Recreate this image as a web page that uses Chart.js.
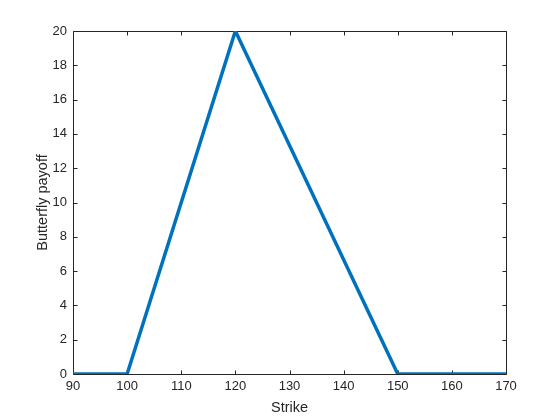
<!DOCTYPE html>
<html>
<head>
<meta charset="utf-8">
<script src="https://cdn.jsdelivr.net/npm/chart.js@4/dist/chart.umd.min.js"></script>
<style>
html,body{margin:0;padding:0;background:#fff;}
#wrap{width:560px;height:420px;}
</style>
</head>
<body>
<div id="wrap"><canvas id="c" width="560" height="420"></canvas></div>
<script>
const strikes = [90, 100, 120, 150, 170];
const payoff = [0, 0, 20, 0, 0];
const xTicks = [90, 100, 110, 120, 130, 140, 150, 160, 170];
const yTicks = [0, 2, 4, 6, 8, 10, 12, 14, 16, 18, 20];

const AX = '#262626';
const framePlugin = {
  id: 'frame',
  beforeDatasetsDraw(chart) {
    const {ctx, chartArea: a, scales: {x, y}} = chart;
    ctx.save();
    ctx.strokeStyle = AX;
    ctx.lineWidth = 1;
    const L = Math.round(a.left) + 0.5, R = Math.round(a.right) + 0.5;
    const T = Math.round(a.top) + 0.5, B = Math.round(a.bottom) + 0.5;
    ctx.beginPath();
    ctx.rect(L, T, R - L, B - T);
    const tl = 4;
    xTicks.forEach(v => {
      const px = Math.round(x.getPixelForValue(v)) + 0.5;
      ctx.moveTo(px, B); ctx.lineTo(px, B - tl);
      ctx.moveTo(px, T); ctx.lineTo(px, T + tl);
    });
    yTicks.forEach(v => {
      const py = Math.round(y.getPixelForValue(v)) + 0.5;
      ctx.moveTo(L, py); ctx.lineTo(L + tl, py);
      ctx.moveTo(R, py); ctx.lineTo(R - tl, py);
    });
    ctx.stroke();
    ctx.restore();
  }
};

new Chart(document.getElementById('c'), {
  type: 'line',
  data: {
    datasets: [{
      data: strikes.map((s, i) => ({x: s, y: payoff[i]})),
      borderColor: '#0072BD',
      borderWidth: 3.5,
      pointRadius: 0,
      tension: 0,
      fill: false
    }]
  },
  options: {
    responsive: false,
    animation: false,
    layout: {padding: {top: 31, right: 54, left: 0, bottom: 0}},
    plugins: {legend: {display: false}, tooltip: {enabled: false}},
    scales: {
      x: {
        type: 'linear', min: 90, max: 170,
        afterBuildTicks: s => { s.ticks = xTicks.map(v => ({value: v})); },
        afterFit: s => { s.height = 46; },
        grid: {display: false, drawTicks: false},
        border: {display: false},
        ticks: {color: AX, font: {family: 'Liberation Sans', size: 13}, padding: 5, maxRotation: 0, autoSkip: false},
        title: {display: true, text: 'Strike', color: AX, font: {family: 'Liberation Sans', size: 14.5}, padding: {top: 0, bottom: 3}}
      },
      y: {
        type: 'linear', min: 0, max: 20,
        afterBuildTicks: s => { s.ticks = yTicks.map(v => ({value: v})); },
        afterFit: s => { s.width = 73; },
        grid: {display: false, drawTicks: false},
        border: {display: false},
        ticks: {color: AX, font: {family: 'Liberation Sans', size: 13}, padding: 6, autoSkip: false},
        title: {display: true, text: 'Butterfly payoff', color: AX, font: {family: 'Liberation Sans', size: 14.5}, padding: {top: 34, bottom: 0}}
      }
    }
  },
  plugins: [framePlugin]
});
</script>
</body>
</html>
